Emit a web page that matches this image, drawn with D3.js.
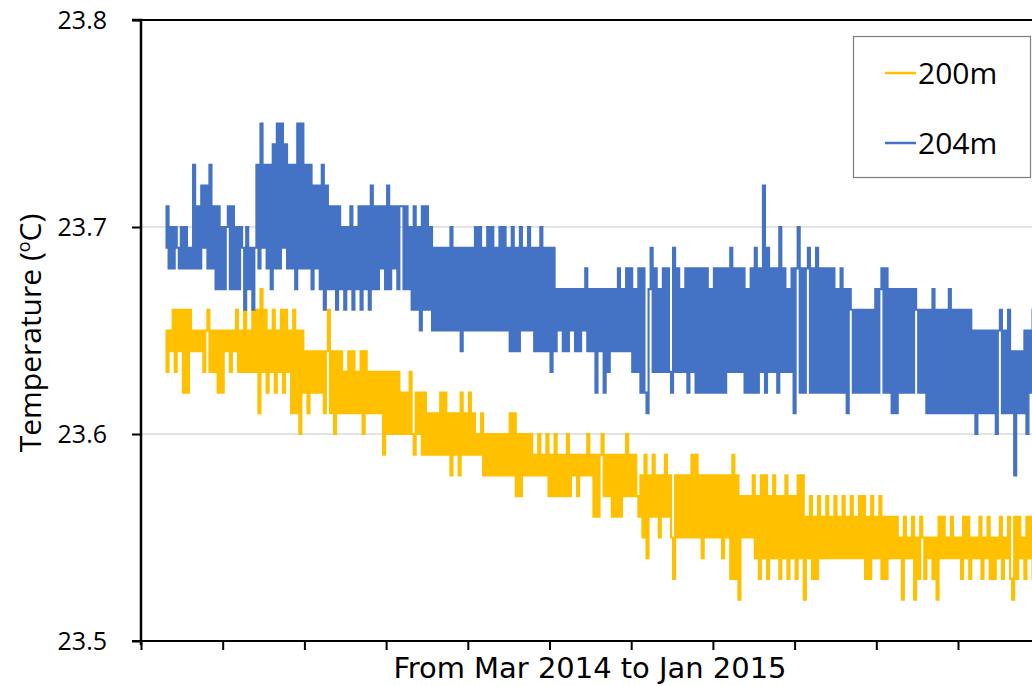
<!DOCTYPE html>
<html>
<head>
<meta charset="utf-8">
<script src="https://cdn.jsdelivr.net/npm/d3@7/dist/d3.min.js"></script>
<style>
  body { margin: 0; background: #fff; }
  svg { display: block; }
</style>
</head>
<body>
<svg id="chart" width="1032" height="686"></svg>
<script>
// temperature logger -- 200m and 204m, Mar 2014 to Jan 2015

var seriesNames = ["200m", "204m"];
var seriesColors = ["#FFC000", "#4472C4"];
var yTicks = [23.5, 23.6, 23.7, 23.8];
var xLabel = "From Mar 2014 to Jan 2015";

// first sample sits 12 sample-steps after the axis origin, ticks every 40 steps
var firstSample = 12;
var tickStep = 40;
var tickCount = 12;

// 200m readings (deg C)
var t200 = [
  23.65,23.63,23.65,
  23.64,23.66,23.63,23.66,23.64,23.66,23.62,23.66,23.62,23.66,
  23.64,23.65,23.64,23.65,23.64,23.65,23.63,23.65,
  23.66,23.63,23.65,23.63,
  23.65,23.62,23.65,23.62,
  23.65,23.64,23.65,23.63,23.65,23.64,23.66,23.63,23.65,23.63,
  23.66,23.63,23.65,23.63,23.66,23.63,23.66,
  23.61,23.67,23.63,
  23.66,23.62,23.65,23.63,23.66,23.62,23.65,23.63,23.66,23.62,23.66,23.63,23.65,23.61,23.66,23.61,23.65,23.60,23.65,
  23.62,23.64,23.61,23.64,23.62,23.64,23.62,23.64,23.62,23.64,23.61,23.64,
  23.66,23.61,23.64,23.60,23.64,23.61,23.64,23.61,
  23.63,23.61,23.64,23.61,23.64,23.61,23.63,23.61,23.64,23.60,23.64,23.61,23.63,23.61,23.63,23.61,23.63,23.61,23.63,
  23.59,23.63,23.60,23.63,23.60,23.63,23.60,23.63,23.60,23.62,23.60,23.62,23.60,23.63,23.60,23.59,23.62,23.60,23.62,
  23.59,23.62,23.59,23.61,23.59,23.61,23.59,23.61,23.59,23.62,23.59,23.62,23.59,23.61,23.58,23.61,23.59,23.61,23.58,23.62,23.59,23.61,23.59,23.62,
  23.59,23.61,23.59,23.60,23.59,23.61,23.58,23.60,23.58,23.60,23.58,23.60,23.58,23.60,23.58,23.60,23.58,23.60,23.58,
  23.61,23.58,23.61,23.57,
  23.60,23.57,23.60,23.58,23.60,
  23.58,23.60,23.58,23.59,23.58,23.60,23.58,23.59,23.58,23.60,
  23.57,23.59,23.57,23.60,23.57,23.59,23.57,23.59,23.57,23.60,23.57,23.59,
  23.58,23.59,23.57,23.59,23.58,23.59,23.58,23.60,23.58,
  23.59,23.56,23.59,23.56,23.59,
  23.60,23.57,23.59,23.57,23.59,23.56,23.59,23.56,23.59,23.56,23.59,23.57,23.60,23.57,23.59,23.57,23.59,23.57,
  23.56,23.58,23.55,23.59,23.54,23.58,23.56,23.59,23.56,23.58,23.55,23.58,23.56,23.59,23.56,23.58,23.55,23.53,
  23.58,23.55,23.58,23.55,23.58,23.55,23.58,23.55,23.59,23.55,23.59,23.55,23.58,
  23.54,23.58,23.55,23.58,23.55,23.58,23.55,23.58,23.55,23.58,23.54,23.58,23.55,
  23.58,23.53,23.59,23.53,23.58,23.52,23.57,
  23.55,23.57,23.55,23.57,23.55,
  23.58,23.54,23.57,23.53,23.58,23.54,23.58,23.53,23.57,23.54,23.58,
  23.54,23.57,23.53,23.57,23.54,23.58,23.53,23.57,23.54,23.57,23.53,23.58,23.54,23.58,23.52,
  23.56,23.54,23.57,23.53,23.56,23.53,23.57,23.54,23.56,23.54,23.57,23.54,23.56,23.54,23.57,23.54,23.56,23.54,23.57,
  23.54,23.56,23.54,23.57,23.54,23.56,23.54,23.57,23.54,23.57,23.53,23.56,23.53,23.57,23.54,23.56,23.54,23.57,
  23.53,23.56,23.53,23.56,23.54,23.56,23.54,23.56,23.54,23.55,23.52,23.56,23.54,23.55,23.54,23.56,23.52,23.55,23.53,23.56,
  23.55,23.53,23.55,23.54,23.55,23.53,23.55,23.52,23.56,23.54,23.56,23.54,23.55,23.54,23.56,23.54,
  23.55,23.54,23.55,23.53,23.56,23.54,23.56,23.53,23.55,23.54,23.55,23.54,
  23.56,23.53,23.55,23.54,23.56,23.53,23.55,23.53,23.55,23.54,23.56,23.53,23.55,23.54,
  23.56,23.53,23.52,23.56,23.53,23.56,23.54,23.55,23.53,23.56,23.54,23.56,23.53,23.55
];

// 204m readings (deg C)
var t204 = [
  23.69,23.71,23.68,23.70,23.68,23.70,23.69,23.68,23.70,23.68,23.70,23.68,23.69,
  23.68,23.73,23.68,23.71,23.68,23.72,23.69,23.72,23.68,23.73,23.68,23.71,23.67,23.71,23.67,
  23.70,23.67,23.70,23.71,23.67,23.71,23.67,23.70,23.67,23.70,
  23.69,23.66,23.70,23.67,23.69,23.66,23.69,
  23.73,23.68,23.75,23.69,23.73,23.68,23.73,23.67,23.74,23.68,23.75,23.68,23.75,23.69,23.74,23.68,
  23.73,23.68,23.73,23.67,23.75,23.68,23.75,23.68,23.73,23.68,
  23.73,23.67,23.72,23.68,23.72,23.67,23.73,23.66,23.72,23.67,
  23.71,23.67,23.71,23.66,23.71,23.67,
  23.70,23.66,23.70,23.67,23.71,23.66,23.70,23.67,
  23.71,23.66,23.71,23.67,23.71,23.66,23.72,23.67,23.71,23.67,23.71,23.68,23.71,23.67,23.72,23.67,23.71,23.68,23.71,23.67,23.71,
  23.71,23.67,23.71,23.67,23.70,23.66,23.71,23.66,23.70,23.65,23.71,23.66,23.71,23.66,23.70,23.65,
  23.69,23.65,23.69,23.65,23.69,23.65,23.69,23.65,23.70,23.65,
  23.69,23.65,23.69,23.64,23.69,23.65,23.69,23.65,23.69,23.65,23.70,23.65,23.70,23.65,23.69,23.65,23.70,23.65,23.70,23.65,
  23.69,23.65,23.70,23.65,23.70,23.65,23.69,23.64,23.70,23.64,23.69,23.64,23.70,23.65,23.69,23.65,23.70,23.65,23.69,
  23.64,23.69,23.64,23.70,23.64,23.69,23.64,23.69,23.63,23.69,
  23.64,23.67,23.65,23.67,23.64,23.67,23.64,23.67,23.65,23.67,23.64,23.67,23.64,23.67,23.65,23.68,23.64,
  23.67,23.64,23.67,23.62,23.67,23.64,23.67,23.62,23.67,23.63,23.67,23.64,23.67,23.64,23.68,23.64,23.67,23.64,23.68,23.64,23.68,23.63,23.67,
  23.63,23.68,23.62,23.68,23.62,23.61,23.67,23.69,23.63,23.68,23.63,23.67,23.63,23.68,23.63,23.68,
  23.63,23.62,23.69,23.63,23.68,23.63,23.67,23.63,23.68,23.62,23.68,23.63,23.68,23.62,23.68,23.62,
  23.68,23.62,23.68,23.62,23.67,23.62,23.68,23.62,23.68,23.62,23.68,23.62,23.68,23.63,23.69,23.63,23.68,23.63,23.68,23.63,23.68,
  23.62,23.67,23.62,23.68,23.62,23.69,23.62,23.68,23.63,23.72,23.62,23.69,23.63,23.68,23.63,23.68,23.62,23.70,23.63,23.68,23.63,23.67,23.63,
  23.68,23.61,23.68,23.70,23.62,23.68,23.62,23.68,23.69,23.62,23.68,23.62,23.69,23.62,23.68,
  23.62,23.68,23.62,23.68,23.62,23.68,23.62,23.67,23.62,23.68,23.62,23.67,23.61,23.67,
  23.66,23.62,23.66,23.62,23.66,23.62,23.66,23.62,23.66,23.62,23.66,23.62,
  23.67,23.62,23.67,23.68,23.62,23.68,23.62,23.67,23.61,23.67,23.61,23.67,23.62,23.67,23.62,23.67,23.62,23.67,23.62,23.67,
  23.66,23.62,23.66,23.62,23.66,23.61,23.66,23.61,23.67,23.61,23.66,23.61,23.66,23.61,
  23.66,23.61,23.67,23.61,23.66,23.61,23.66,23.61,23.66,23.61,23.66,23.61,23.66,
  23.61,23.65,23.60,23.65,23.61,23.65,23.61,23.65,23.61,23.65,23.61,23.65,23.60,
  23.65,23.66,23.61,23.65,23.61,23.66,23.61,23.64,23.58,23.64,23.61,23.64,23.61,
  23.65,23.60,23.65,23.62,23.66,23.61
];

var seriesData = [t200, t204];

///////////////////////////////////////////////////////////////////////////////
// Scales

var svg = d3.select("#chart");

var plot = {left: 141, top: 20, bottom: 641, tickWidth: 81.7};

var x = d3.scaleLinear()
  .domain([0, tickStep * tickCount])
  .range([plot.left, plot.left + plot.tickWidth * tickCount]);

var y = d3.scaleLinear()
  .domain([23.5, 23.8])
  .range([plot.bottom, plot.top]);

///////////////////////////////////////////////////////////////////////////////
// Grid lines

svg.append("g")
  .selectAll("line")
  .data(yTicks.filter(function (t) { return t > 23.5 && t < 23.8; }))
  .enter().append("line")
  .attr("x1", plot.left)
  .attr("x2", 1032)
  .attr("y1", function (d) { return y(d); })
  .attr("y2", function (d) { return y(d); })
  .attr("stroke", "#c8c8c8")
  .attr("stroke-width", 1);

///////////////////////////////////////////////////////////////////////////////
// Series -- the logger is sampled so densely that each reading reads as a step

var line = d3.line()
  .curve(d3.curveStep)
  .x(function (d, i) { return x(firstSample + i); })
  .y(function (d) { return y(d); });

svg.append("g")
  .selectAll("path")
  .data(seriesData)
  .enter().append("path")
  .attr("d", line)
  .attr("fill", "none")
  .attr("stroke", function (d, i) { return seriesColors[i]; })
  .attr("stroke-width", 2.1)
  .attr("stroke-linejoin", "miter");

///////////////////////////////////////////////////////////////////////////////
// Axes

var yAxis = svg.append("g")
  .attr("transform", "translate(" + plot.left + ",0)")
  .call(d3.axisLeft(y).tickValues(yTicks).tickSize(9).tickPadding(25)
        .tickFormat(d3.format(".1f")));

yAxis.select(".domain").attr("stroke", "#000").attr("stroke-width", 2.5)
  .attr("d", "M-9," + plot.top + "H0V" + (plot.bottom + 4));
yAxis.selectAll(".tick line").attr("stroke", "#000").attr("stroke-width", 2);
yAxis.selectAll(".tick text")
  .attr("fill", "#000")
  .style("font-family", "'Open Sans', 'Noto Sans', sans-serif")
  .style("font-size", "25px");

var xAxis = svg.append("g")
  .attr("transform", "translate(0," + plot.bottom + ")")
  .call(d3.axisBottom(x).tickValues(d3.range(0, tickStep * tickCount + 1, tickStep))
        .tickSize(9).tickFormat(""));

xAxis.select(".domain").attr("stroke", "#000").attr("stroke-width", 2)
  .attr("d", "M" + (plot.left - 9) + ",0H1032");
xAxis.selectAll(".tick line").attr("stroke", "#000").attr("stroke-width", 2);

// top border
svg.append("line")
  .attr("x1", plot.left - 9).attr("x2", 1032)
  .attr("y1", plot.top).attr("y2", plot.top)
  .attr("stroke", "#000").attr("stroke-width", 2);

///////////////////////////////////////////////////////////////////////////////
// Titles

svg.append("text")
  .attr("x", 590)
  .attr("y", 678)
  .attr("text-anchor", "middle")
  .attr("textLength", 393)
  .attr("lengthAdjust", "spacingAndGlyphs")
  .style("font-family", "'Liberation Sans Narrow', 'DejaVu Sans Condensed', sans-serif")
  .style("font-size", "29px")
  .text(xLabel);

var yTitle = svg.append("text")
  .attr("transform", "translate(41,333) rotate(-90)")
  .attr("text-anchor", "middle")
  .style("font-family", "'Open Sans', 'Noto Sans', sans-serif")
  .style("font-size", "30px");
yTitle.append("tspan").text("Temperature (");
yTitle.append("tspan").attr("dy", -11).style("font-size", "18px").text("o");
yTitle.append("tspan").attr("dy", 11).text("C)");

///////////////////////////////////////////////////////////////////////////////
// Legend

var legend = svg.append("g");

legend.append("rect")
  .attr("x", 853.5).attr("y", 36.5)
  .attr("width", 177).attr("height", 141)
  .attr("fill", "#fff")
  .attr("stroke", "#7f7f7f")
  .attr("stroke-width", 1.2);

var items = legend.selectAll("g.item")
  .data(seriesNames)
  .enter().append("g")
  .attr("class", "item")
  .attr("transform", function (d, i) { return "translate(0," + (73 + i * 70) + ")"; });

items.append("line")
  .attr("x1", 885).attr("x2", 916)
  .attr("stroke", function (d, i) { return seriesColors[i]; })
  .attr("stroke-width", 2.5);

items.append("text")
  .attr("x", 918)
  .attr("y", 11)
  .style("font-family", "'Open Sans', 'Noto Sans', sans-serif")
  .style("font-size", "30px")
  .text(function (d) { return d; });
</script>
</body>
</html>
